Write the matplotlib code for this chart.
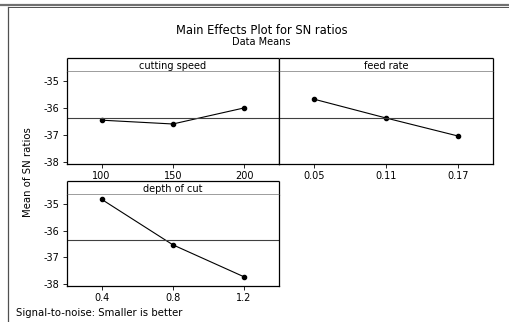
import matplotlib
matplotlib.use("Agg")
import matplotlib.pyplot as plt
from matplotlib.lines import Line2D
import numpy as np

# data
factors = ["cutting speed", "feed rate", "depth of cut"]
speed_levels = ["100", "150", "200"]
speed_sn = [-36.45, -36.59, -36.00]
feed_levels = ["0.05", "0.11", "0.17"]
feed_sn = [-35.68, -36.37, -37.03]
depth_levels = ["0.4", "0.8", "1.2"]
depth_sn = [-34.84, -36.53, -37.72]
yticks = [-35, -36, -37, -38]

W, H = 509, 322
fig = plt.figure(figsize=(W / 100, H / 100), dpi=100)
plt.rcParams['font.family'] = ['DejaVu Sans']

grand_mean = np.mean(speed_sn + feed_sn + depth_sn)


def box(x0, x1, y0, y1):
    # pixel box -> figure coords
    return [x0 / W, 1 - y1 / H, (x1 - x0) / W, (y1 - y0) / H]


def panel(x0, x1, ytop, ybot, name, levels, vals, show_y):
    strip = fig.add_axes(box(x0, x1, ytop, ytop + 14))
    strip.set_xticks([])
    strip.set_yticks([])
    for s in strip.spines.values():
        s.set_linewidth(0.9)
        s.set_capstyle('butt')
    strip.spines['bottom'].set_color('#808080')
    strip.spines['bottom'].set_linewidth(1.8)
    strip.text(0.5, 0.45, name, ha='center', va='center', fontsize=7)

    ax = fig.add_axes(box(x0, x1, ytop + 14, ybot))
    xs = np.arange(len(levels))
    ax.plot(xs, vals, color='black', lw=0.8, marker='o', ms=3.0)
    ax.axhline(grand_mean, color='#404040', lw=0.8)
    ax.set_xlim(-0.49, 2.49)
    ax.set_ylim(-38.06, -34.68)
    ax.set_xticks(xs)
    ax.set_xticklabels(levels, fontsize=7)
    ax.set_yticks(yticks)
    if show_y:
        ax.set_yticklabels([str(t) for t in yticks], fontsize=7)
    else:
        ax.tick_params(axis='y', left=False, labelleft=False)
    ax.tick_params(length=3, width=0.6, pad=2)
    for s in ax.spines.values():
        s.set_linewidth(0.9)
    ax.spines['top'].set_visible(False)
    return ax


panel(66.7, 279, 58, 164, factors[0], speed_levels, speed_sn, True)
panel(279, 493, 58, 164, factors[1], feed_levels, feed_sn, False)
panel(66.7, 279, 181, 286, factors[2], depth_levels, depth_sn, True)

fig.text(261.5 / W, 1 - 30 / H, "Main Effects Plot for SN ratios",
         ha='center', va='center', fontsize=8.3)
fig.text(261.5 / W, 1 - 42 / H, "Data Means", ha='center', va='center', fontsize=7)
fig.text(28 / W, 1 - 172 / H, "Mean of SN ratios", rotation=90,
         ha='center', va='center', fontsize=7.3)
fig.text(16 / W, 1 - 313 / H, "Signal-to-noise: Smaller is better",
         ha='left', va='center', fontsize=7.3)

# window frame
fig.add_artist(Line2D([0, 1], [1 - 4.5 / H] * 2, color='#707070', lw=1.6,
                      transform=fig.transFigure))
fig.add_artist(Line2D([7.5 / W, 1], [1 - 6.5 / H] * 2, color='#505050', lw=0.7,
                      transform=fig.transFigure))
fig.add_artist(Line2D([7.5 / W] * 2, [0, 1 - 6.5 / H], color='#505050', lw=0.9,
                      transform=fig.transFigure))

fig.savefig("out.png", dpi=100)
